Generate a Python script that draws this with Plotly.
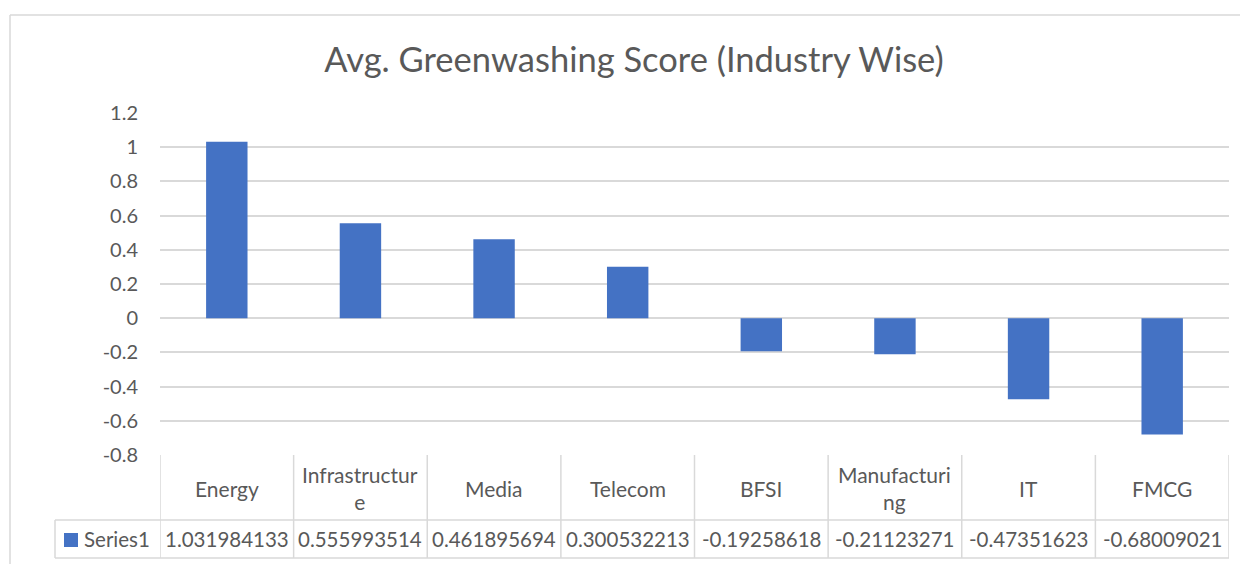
import plotly.graph_objects as go

industries = ["Energy", "Infrastructure", "Media", "Telecom", "BFSI",
              "Manufacturing", "IT", "FMCG"]
header_labels = ["Energy", "Infrastructur<br>e", "Media", "Telecom", "BFSI",
                 "Manufacturi<br>ng", "IT", "FMCG"]
scores = [1.031984133, 0.555993514, 0.461895694, 0.300532213,
          -0.19258618, -0.21123271, -0.47351623, -0.68009021]
score_text = ["1.031984133", "0.555993514", "0.461895694", "0.300532213",
              "-0.19258618", "-0.21123271", "-0.47351623", "-0.68009021"]
y_ticks = [1.2, 1.0, 0.8, 0.6, 0.4, 0.2, 0, -0.2, -0.4, -0.6, -0.8]
y_tick_text = ["1.2", "1", "0.8", "0.6", "0.4", "0.2", "0",
               "-0.2", "-0.4", "-0.6", "-0.8"]
series_name = "Series1"

# the page body has an 8px margin, so work in page pixels and shift back
OFF = 8
W, H = 1248 - OFF, 564 - OFF
L, R, T, B = 160, 1229, 113, 455   # plot area in page pixels
TXT = "#595959"
GRID = "#D9D9D9"
BLUE = "#4472C4"
FONT = "Lato"


def px_x(p):
    return (p - L) / (R - L)


def px_y(p):
    return (B - p) / (B - T)


fig = go.Figure()
fig.add_trace(go.Bar(x=industries, y=scores, width=0.31,
                     marker=dict(color=BLUE, line=dict(width=0)),
                     name=series_name, hoverinfo="skip"))

shapes = []
# outer chart border (left + top)
shapes.append(dict(type="line", xref="paper", yref="paper",
                   x0=px_x(10), x1=px_x(10), y0=px_y(15), y1=px_y(600),
                   line=dict(color=GRID, width=1.5)))
shapes.append(dict(type="line", xref="paper", yref="paper",
                   x0=px_x(10), x1=px_x(1300), y0=px_y(15), y1=px_y(15),
                   line=dict(color=GRID, width=1.5)))

# data table grid
for i in range(len(industries) + 1):
    shapes.append(dict(type="line", xref="x", yref="paper",
                       x0=i - 0.5, x1=i - 0.5, y0=0, y1=px_y(558),
                       line=dict(color=GRID, width=1.5)))
for yy in (520, 558):
    shapes.append(dict(type="line", xref="paper", yref="paper",
                       x0=px_x(55), x1=1, y0=px_y(yy), y1=px_y(yy),
                       line=dict(color=GRID, width=1.5)))
shapes.append(dict(type="line", xref="paper", yref="paper",
                   x0=px_x(55), x1=px_x(55), y0=px_y(520), y1=px_y(558),
                   line=dict(color=GRID, width=1.5)))
# legend key
shapes.append(dict(type="rect", xref="paper", yref="paper",
                   x0=px_x(64), x1=px_x(78), y0=px_y(547), y1=px_y(533),
                   fillcolor=BLUE, line=dict(width=0)))

annotations = []
for name, lab, val in zip(industries, header_labels, score_text):
    annotations.append(dict(x=name, xref="x", y=px_y(488), yref="paper",
                            text=lab, showarrow=False, xanchor="center",
                            yanchor="middle",
                            font=dict(family=FONT, size=21, color=TXT)))
    annotations.append(dict(x=name, xref="x", y=px_y(539), yref="paper",
                            text=val, showarrow=False, xanchor="center",
                            yanchor="middle",
                            font=dict(family=FONT, size=20.5, color=TXT)))
annotations.append(dict(x=px_x(82), xref="paper", y=px_y(539), yref="paper",
                        text=series_name, showarrow=False, xanchor="left",
                        yanchor="middle",
                        font=dict(family=FONT, size=20.5, color=TXT)))

fig.update_layout(
    width=W, height=H,
    margin=dict(l=L - OFF, r=1248 - R, t=T - OFF, b=564 - B, pad=0),
    paper_bgcolor="white", plot_bgcolor="white",
    showlegend=False,
    title=dict(text="Avg. Greenwashing Score (Industry Wise)",
               x=(634 - OFF) / W, xref="container", xanchor="center",
               y=1 - (60 - OFF) / H, yref="container", yanchor="middle",
               font=dict(family=FONT, size=34.5, color=TXT)),
    xaxis=dict(range=[-0.5, 7.5], showticklabels=False, showgrid=False,
               zeroline=False, showline=False, fixedrange=True),
    yaxis=dict(range=[-0.8, 1.2], tickvals=y_ticks, ticktext=y_tick_text,
               showgrid=True, gridcolor=GRID, gridwidth=1.5,
               zeroline=True, zerolinecolor=GRID, zerolinewidth=1.5,
               showline=False, ticks="", ticklabelstandoff=21,
               tickfont=dict(family=FONT, size=20, color=TXT),
               fixedrange=True),
    shapes=shapes,
    annotations=annotations,
)

fig.write_html("out.html", config={"displayModeBar": False})
